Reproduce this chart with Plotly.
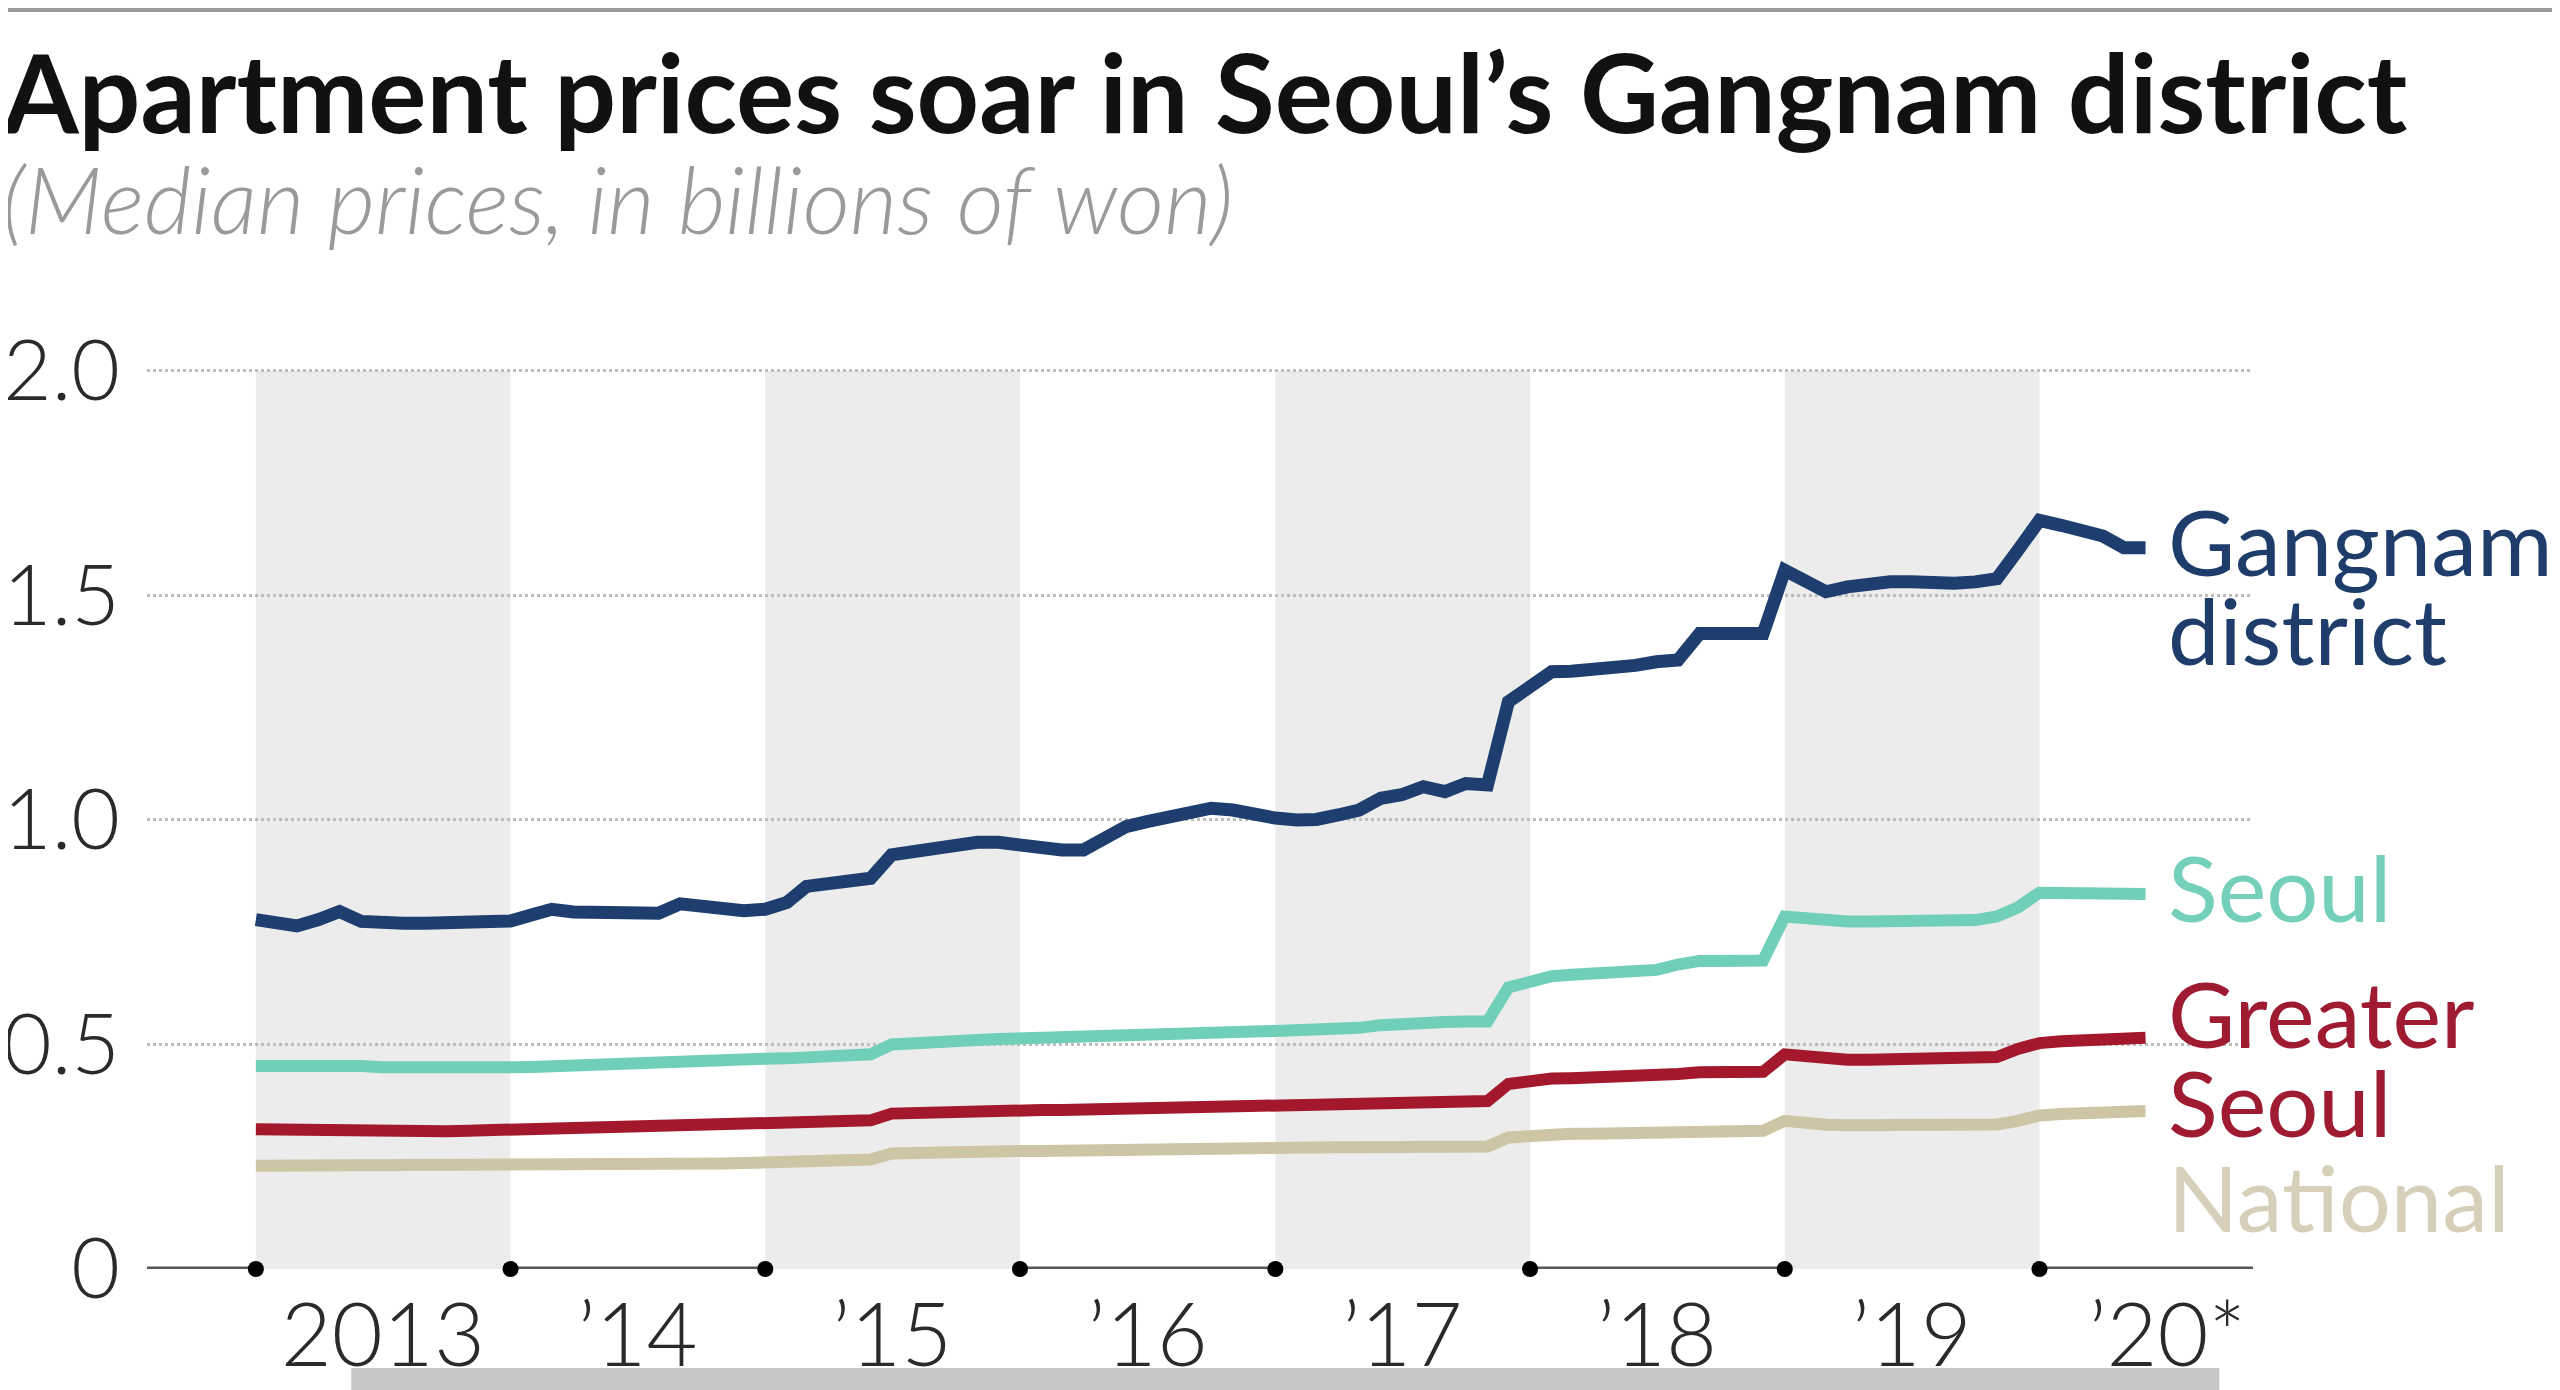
import pandas as pd
import plotly.graph_objects as go

# monthly medians, Jan 2013 - Jun 2020 (billions of won)
months = pd.date_range("2013-01-01", periods=90, freq="MS")

gangnam = [
    0.778, 0.770, 0.764, 0.778, 0.796, 0.774, 0.770, 0.770, 0.770, 0.770, 0.770, 0.772,
    0.775, 0.789, 0.801, 0.795, 0.793, 0.793, 0.792, 0.792, 0.813, 0.809, 0.801, 0.798,
    0.801, 0.816, 0.852, 0.859, 0.864, 0.870, 0.922, 0.930, 0.941, 0.948, 0.950, 0.950,
    0.944, 0.935, 0.933, 0.933, 0.959, 0.985, 0.996, 1.004, 1.011, 1.026, 1.022, 1.010,
    1.004, 1.000, 1.001, 1.011, 1.022, 1.048, 1.056, 1.074, 1.063, 1.081, 1.078, 1.263,
    1.296, 1.330, 1.331, 1.333, 1.337, 1.344, 1.352, 1.356, 1.415, 1.415, 1.415, 1.415,
    1.556, 1.527, 1.508, 1.519, 1.527, 1.530, 1.530, 1.527, 1.527, 1.530, 1.537, 1.600,
    1.667, 1.656, 1.647, 1.632, 1.606, 1.606,
]
seoul = [
    0.452, 0.452, 0.455, 0.457, 0.458, 0.452, 0.449, 0.448, 0.448, 0.448, 0.448, 0.448,
    0.449, 0.450, 0.452, 0.453, 0.454, 0.455, 0.456, 0.457, 0.460, 0.463, 0.464, 0.466,
    0.468, 0.469, 0.471, 0.474, 0.476, 0.478, 0.500, 0.504, 0.506, 0.508, 0.510, 0.512,
    0.514, 0.515, 0.516, 0.518, 0.520, 0.521, 0.522, 0.524, 0.526, 0.527, 0.528, 0.529,
    0.530, 0.531, 0.532, 0.533, 0.537, 0.543, 0.547, 0.550, 0.550, 0.551, 0.551, 0.627,
    0.641, 0.652, 0.655, 0.657, 0.659, 0.662, 0.666, 0.678, 0.686, 0.686, 0.686, 0.687,
    0.785, 0.780, 0.776, 0.774, 0.774, 0.774, 0.774, 0.774, 0.775, 0.777, 0.785, 0.805,
    0.838, 0.838, 0.837, 0.836, 0.834, 0.835,
]
greater_seoul = [
    0.311, 0.310, 0.310, 0.309, 0.309, 0.308, 0.307, 0.307, 0.307, 0.307, 0.308, 0.309,
    0.311, 0.314, 0.317, 0.319, 0.320, 0.320, 0.319, 0.319, 0.320, 0.321, 0.322, 0.324,
    0.326, 0.327, 0.328, 0.329, 0.330, 0.331, 0.346, 0.348, 0.350, 0.351, 0.352, 0.353,
    0.353, 0.354, 0.354, 0.355, 0.355, 0.356, 0.356, 0.357, 0.357, 0.358, 0.358, 0.359,
    0.359, 0.360, 0.361, 0.362, 0.364, 0.366, 0.368, 0.370, 0.371, 0.372, 0.374, 0.412,
    0.419, 0.424, 0.425, 0.426, 0.427, 0.428, 0.430, 0.434, 0.438, 0.438, 0.438, 0.439,
    0.478, 0.472, 0.468, 0.466, 0.466, 0.466, 0.466, 0.466, 0.467, 0.468, 0.472, 0.490,
    0.503, 0.507, 0.509, 0.511, 0.513, 0.515,
]
national = [
    0.230, 0.230, 0.229, 0.229, 0.229, 0.229, 0.229, 0.229, 0.229, 0.229, 0.230, 0.230,
    0.230, 0.231, 0.231, 0.232, 0.232, 0.233, 0.233, 0.234, 0.234, 0.235, 0.235, 0.236,
    0.237, 0.238, 0.239, 0.241, 0.242, 0.244, 0.257, 0.259, 0.260, 0.261, 0.261, 0.262,
    0.263, 0.263, 0.264, 0.264, 0.265, 0.265, 0.266, 0.267, 0.267, 0.268, 0.268, 0.269,
    0.270, 0.270, 0.270, 0.271, 0.271, 0.271, 0.272, 0.272, 0.272, 0.273, 0.273, 0.293,
    0.298, 0.300, 0.301, 0.301, 0.302, 0.302, 0.303, 0.305, 0.307, 0.307, 0.307, 0.308,
    0.330, 0.324, 0.321, 0.320, 0.320, 0.320, 0.320, 0.320, 0.320, 0.320, 0.322, 0.330,
    0.342, 0.345, 0.347, 0.349, 0.351, 0.352,
]

shaded_years = [2013, 2015, 2017, 2019]
dot_years = [2013, 2014, 2015, 2016, 2017, 2018, 2019, 2020]
tick_years = [2013, 2014, 2015, 2016, 2017, 2018, 2019, 2020]
tick_text = ["2013", "\u201914", "\u201915", "\u201916", "\u201917", "\u201918", "\u201919", "\u201920*"]
y_ticks = [0, 0.5, 1.0, 1.5, 2.0]
y_text = ["0", "0.5", "1.0", "1.5", "2.0"]

# label text, colour, y position of each line
labels = [
    ("Gangnam", "#1e3d6b", 1.622),
    ("district", "#1e3d6b", 1.425),
    ("Seoul", "#74d0b9", 0.852),
    ("Greater", "#9e1b32", 0.572),
    ("Seoul", "#9e1b32", 0.372),
    ("National", "#d6d0bb", 0.162),
]

series = [
    (national, "#cdc5a3", 12),
    (greater_seoul, "#a3182d", 12),
    (seoul, "#70cfb8", 12),
    (gangnam, "#1d3e6e", 13),
]

fig = go.Figure()

for vals, col, w in series:
    fig.add_trace(go.Scatter(x=months, y=vals, mode="lines",
                             line=dict(color=col, width=w), hoverinfo="skip"))

# black dots at year boundaries on the axis
fig.add_trace(go.Scatter(x=[f"{y}-01-01" for y in dot_years], y=[0] * len(dot_years),
                         mode="markers", marker=dict(color="black", size=16),
                         cliponaxis=False, hoverinfo="skip"))

shapes = []
for y in shaded_years:
    shapes.append(dict(type="rect", xref="x", yref="y", x0=f"{y}-01-01", x1=f"{y + 1}-01-01",
                       y0=0, y1=2.0, fillcolor="#ececec", line_width=0, layer="below"))
# axis base line
shapes.append(dict(type="line", xref="paper", yref="y", x0=0, x1=1, y0=0, y1=0,
                   line=dict(color="#555555", width=5), layer="below"))
# frame bits from the screenshot
shapes.append(dict(type="line", xref="paper", yref="paper", x0=-0.08, x1=1.15, y0=1.399, y1=1.399,
                   line=dict(color="#9a9a9a", width=4)))
shapes.append(dict(type="rect", xref="paper", yref="paper", x0=0.097, x1=0.984, y0=-0.14, y1=-0.11,
                   fillcolor="#c6c6c6", line_width=0, layer="below"))

annotations = []
for txt, col, yv in labels:
    annotations.append(dict(x=months[-1], y=yv, xref="x", yref="y", text=txt, showarrow=False,
                            xanchor="left", yanchor="middle", xshift=20,
                            font=dict(family="Lato", size=92, color=col)))

annotations.append(dict(x=-0.0698, y=1.309, xref="paper", yref="paper",
                        text="Apartment prices soar in Seoul\u2019s Gangnam district",
                        showarrow=False, xanchor="left", yanchor="middle",
                        font=dict(family="Lato", size=109, color="#111111", weight=700)))
annotations.append(dict(x=-0.0698, y=1.189, xref="paper", yref="paper",
                        text="<i>(Median prices, in billions of won)</i>",
                        showarrow=False, xanchor="left", yanchor="middle",
                        font=dict(family="Lato", size=92, color="#9a9a9a", weight=300)))

# the page adds an 8px body margin, so the figure is 8px smaller and the margins shifted
fig.update_layout(
    width=2552, height=1382,
    margin=dict(l=139, r=307, t=361, b=121, autoexpand=False),
    plot_bgcolor="white", paper_bgcolor="white",
    showlegend=False,
    shapes=shapes, annotations=annotations,
)
fig.update_xaxes(range=["2012-07-29", "2020-11-02"], showgrid=False, zeroline=False,
                 tickvals=[f"{y}-07-02" for y in tick_years], ticktext=tick_text,
                 ticks="", ticklabelstandoff=8, automargin=False,
                 tickfont=dict(family="Lato", size=88, color="#2a2a2a", weight=300))
fig.update_yaxes(range=[0, 2.004], tickvals=y_ticks, ticktext=y_text,
                 showgrid=True, gridcolor="#bdbdbd", gridwidth=3, griddash="dot",
                 zeroline=False, ticks="", ticklabelstandoff=26, automargin=False,
                 tickfont=dict(family="Lato", size=84, color="#2a2a2a", weight=300))

fig.write_html("out.html")
